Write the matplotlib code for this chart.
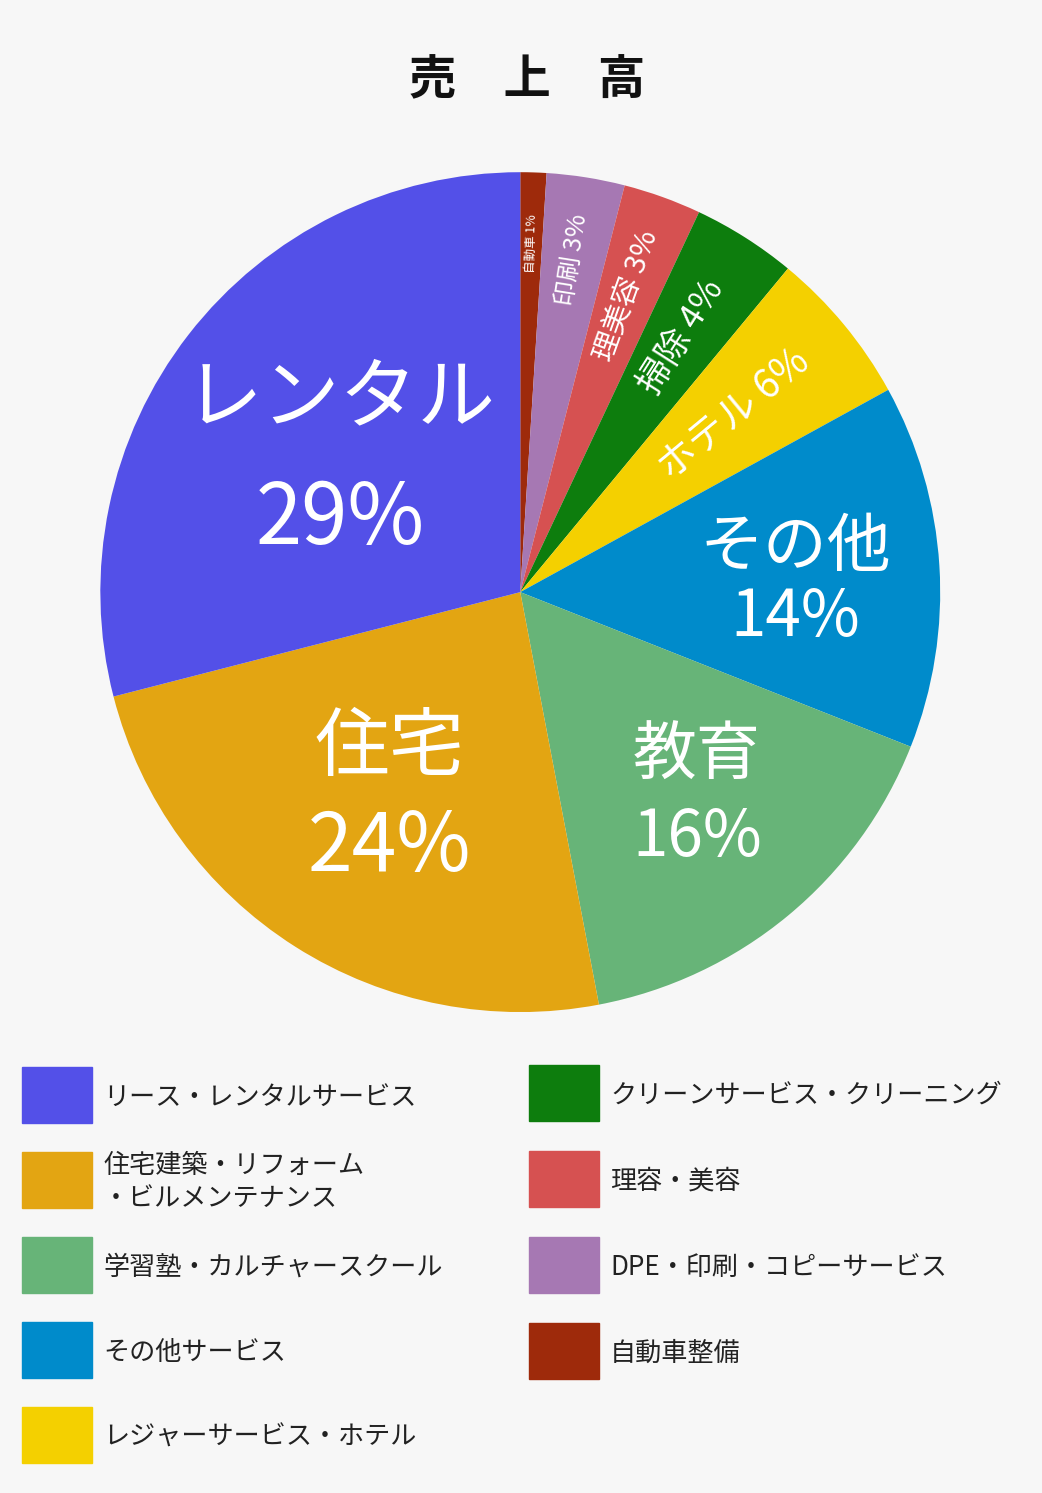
import numpy as np
import matplotlib.pyplot as plt
from matplotlib.patches import Rectangle

plt.rcParams['font.family'] = 'Noto Sans CJK JP'

# data (clockwise from top)
short_names = ['自動車', '印刷', '理美容', '掃除', 'ホテル', 'その他', '教育', '住宅', 'レンタル']
shares = [1, 3, 3, 4, 6, 14, 16, 24, 29]
colors = ['#9E2A0B', '#A678B3', '#D65151', '#0D7D0D', '#F4D000',
          '#008BCB', '#67B478', '#E3A512', '#5350E8']
legend_left = ['リース・レンタルサービス', '住宅建築・リフォーム\n・ビルメンテナンス',
               '学習塾・カルチャースクール', 'その他サービス', 'レジャーサービス・ホテル']
legend_left_colors = ['#5350E8', '#E3A512', '#67B478', '#008BCB', '#F4D000']
legend_right = ['クリーンサービス・クリーニング', '理容・美容', 'DPE・印刷・コピーサービス', '自動車整備']
legend_right_colors = ['#0D7D0D', '#D65151', '#A678B3', '#9E2A0B']

W, H = 1042, 1493
fig = plt.figure(figsize=(W / 100, H / 100), dpi=100, facecolor='#F7F7F7')
ax = fig.add_axes([0.0963, 0.3221, 0.806, 0.5626])
ax.pie(shares, colors=colors, startangle=90, counterclock=False,
       wedgeprops=dict(linewidth=0))
ax.set_aspect('equal')
ax.set_xlim(-1, 1)
ax.set_ylim(-1, 1)

fig.text(527 / W, 1 - 80 / H, '売　上　高', ha='center', va='center',
         fontsize=34, fontweight='bold', color='#111111')

# small radial labels
radial = {0: (0.83, 9), 1: (0.80, 18), 2: (0.75, 21), 3: (0.72, 25), 4: (0.66, 28)}
cum = np.cumsum([0] + shares)
for i, (r, fs) in radial.items():
    mid = (cum[i] + cum[i + 1]) / 2 * 3.6  # degrees clockwise from top
    th = np.radians(90 - mid)
    ax.text(r * np.cos(th), r * np.sin(th), f'{short_names[i]} {shares[i]}%',
            rotation=90 - mid, rotation_mode='anchor', ha='center', va='center',
            color='white', fontsize=fs)

# large labels (pixel positions)
def px(x, y):
    return x / W, 1 - y / H

big = [('レンタル', 340, 400, 56), ('29%', 340, 520, 60),
       ('その他', 795, 548, 46), ('14%', 795, 618, 46),
       ('教育', 697, 757, 46), ('16%', 697, 838, 46),
       ('住宅', 390, 748, 54), ('24%', 390, 848, 58)]
for s, x, y, fs in big:
    fig.text(*px(x, y), s, ha='center', va='center', color='white', fontsize=fs)

# legend
def legend_item(x, y, c, label):
    fx, fy = px(x, y + 28)
    fig.patches.append(Rectangle((fx, fy), 70 / W, 56 / H, color=c,
                                 transform=fig.transFigure, figure=fig))
    fig.text(*px(x + 81, y + 2), label, ha='left', va='center',
             fontsize=18.8, color='#222222', linespacing=1.3)

for k, (lab, c) in enumerate(zip(legend_left, legend_left_colors)):
    legend_item(22, 1095 + 85 * k, c, lab)
for k, (lab, c) in enumerate(zip(legend_right, legend_right_colors)):
    legend_item(529, 1093 + 86 * k, c, lab)

fig.savefig('out.png', dpi=100, facecolor=fig.get_facecolor())
